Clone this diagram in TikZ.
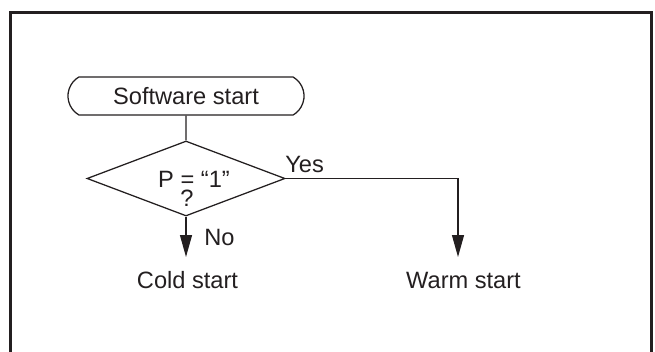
\documentclass[tikz,border=0pt]{standalone}
\usepackage{fontspec}
\setmainfont{Liberation Sans}
\usetikzlibrary{shapes.geometric,shapes.misc,arrows.meta}
\definecolor{ink}{HTML}{231F20}
\tikzset{
  terminal/.style={draw=ink, line width=0.9pt, rounded rectangle,
    rounded rectangle arc length=120, minimum width=5.9cm,
    minimum height=0.95cm, inner sep=0pt},
  decision/.style={draw=ink, line width=0.9pt, diamond,
    minimum width=4.95cm, minimum height=1.875cm, inner sep=0pt},
  flow/.style={draw=ink, line width=0.9pt},
  arrow/.style={flow, -{Triangle[length=15.6pt,width=8.5pt]}},
  caption/.style={anchor=base, inner sep=0pt}
}
\begin{document}
\begin{tikzpicture}[x=0.025cm, y=-0.025cm, font=\fontsize{16.8}{20}\selectfont, text=ink]
      \useasboundingbox (0,0) rectangle (655,352);
      % open frame
      \draw[ink, line width=2.1pt] (10.5,370) -- (10.5,12.2) -- (651.3,12.2) -- (651.3,370);
      \draw
        (186,96) node[terminal] (start){Software start}
        (186,178.5) node[decision] (cond){}
        (194,188) node[caption] (condtext){P = “1”}
        (187,207) node[caption] (condq){?}
        (285,173) node[caption, anchor=base west] (yes){Yes}
        (204,246) node[caption, anchor=base west] (no){No}
        (187.5,289) node[caption] (cold){Cold start}
        (463.5,289) node[caption] (warm){Warm start};
      \coordinate (coldin) at (186,257);
      \coordinate (warmin) at (458,257);
      \begin{scope}[flow]
        \draw (start) to (cond);
        \draw[arrow] (cond.south) to (coldin);
        \draw[arrow] (cond.east) -| (warmin);
      \end{scope}
    \end{tikzpicture}
\end{document}
